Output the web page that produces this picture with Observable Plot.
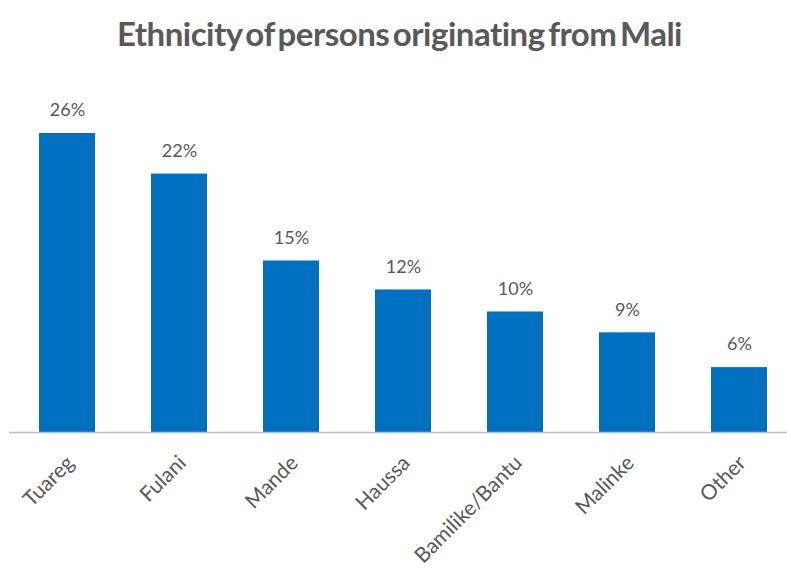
<!DOCTYPE html>
<html>
<head>
<meta charset="utf-8">
<script src="https://cdn.jsdelivr.net/npm/d3@7"></script>
<script src="https://cdn.jsdelivr.net/npm/@observablehq/plot@0.6"></script>
<style>
  html, body { margin: 0; padding: 0; background: #ffffff; }
  #wrap { width: 787px; height: 568px; overflow: hidden; font-family: Lato, sans-serif; }
  #title { height: 66px; line-height: 66px; text-align: center; font-size: 33px; font-weight: 700; color: #595959; word-spacing: -4px; letter-spacing: -0.5px; margin-left: 12px; }
</style>
</head>
<body>
<div id="wrap">
  <div id="title">Ethnicity of persons originating from Mali</div>
  <div id="chart"></div>
</div>
<script>
const categories = ["Tuareg", "Fulani", "Mande", "Haussa", "Bamilike/Bantu", "Malinke", "Other"];
const shares = [25.8, 22.3, 14.8, 12.3, 10.4, 8.6, 5.6];
const labels = ["26%", "22%", "15%", "12%", "10%", "9%", "6%"];

const data = categories.map((c, i) => ({category: c, value: shares[i], label: labels[i]}));

const chart = Plot.plot({
  width: 787,
  height: 502,
  marginTop: 67,
  marginBottom: 136,
  marginLeft: 9,
  marginRight: 0,
  style: {fontFamily: "Lato, sans-serif", background: "#ffffff"},
  x: {domain: categories, range: [10, 796], paddingInner: 0.5, paddingOuter: 0.25, label: null},
  y: {domain: [0, 25.8], axis: null},
  marks: [
    Plot.barY(data, {x: "category", y: "value", fill: "#0070C0"}),
    Plot.ruleY([0], {stroke: "#BFBFBF", strokeWidth: 1.5}),
    Plot.text(data, {x: "category", y: "value", text: "label", dy: -23, fill: "#595959", fontSize: 18}),
    Plot.axisX({tickSize: 0, tickRotate: -45, tickPadding: 27, fontSize: 21, fill: "#595959", label: null, dx: 3})
  ]
});
document.getElementById("chart").appendChild(chart);
</script>
</body>
</html>
